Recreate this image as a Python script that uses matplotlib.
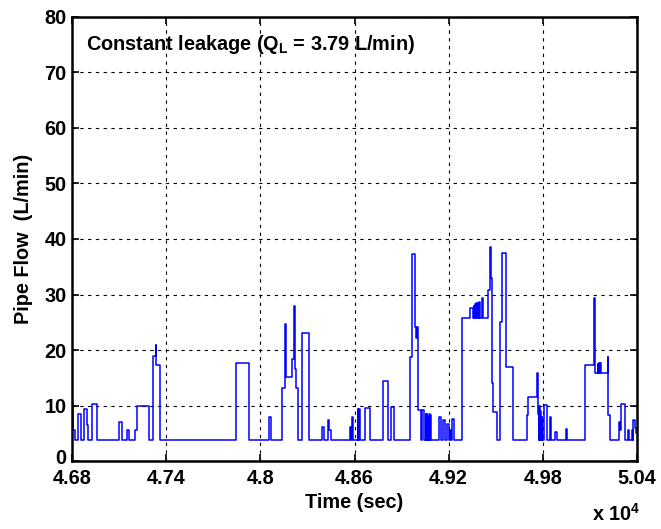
import matplotlib
matplotlib.use("Agg")
import matplotlib.pyplot as plt
import matplotlib.transforms as mtransforms

B = 3.79  # constant leakage baseline (L/min)

# step series: time (sec) at which each level starts, and flow level (L/min)
times = [46800, 46804, 46821, 46836, 46855, 46876, 46893, 46902, 46927, 46957,
         47101, 47118, 47152, 47163, 47201, 47212, 47292, 47314, 47333, 47338,
         47360, 47843, 47928, 48057, 48068, 48140, 48159, 48164, 48200, 48213,
         48219, 48229, 48242, 48264, 48310, 48391, 48408, 48433, 48440, 48448,
         48571, 48578, 48582, 48588, 48620, 48624, 48626, 48629, 48631, 48635,
         48667, 48699, 48784, 48816, 48831, 48852, 48955, 48968, 48986, 48989,
         48992, 48995, 48998, 49007, 49022, 49028, 49043, 49054, 49058, 49061,
         49065, 49068, 49073, 49076, 49081, 49084, 49088, 49138, 49152, 49162,
         49175, 49188, 49200, 49206, 49212, 49222, 49234, 49282, 49335, 49356,
         49360, 49364, 49368, 49373, 49377, 49382, 49386, 49392, 49396, 49402,
         49412, 49416, 49448, 49463, 49467, 49474, 49481, 49505, 49527, 49540,
         49565, 49612, 49697, 49708, 49765, 49771, 49775, 49778, 49782, 49785,
         49789, 49792, 49796, 49805, 49826, 49846, 49855, 49878, 49890, 49948,
         49956, 50069, 50128, 50133, 50150, 50153, 50158, 50162, 50166, 50170,
         50213, 50217, 50230, 50283, 50292, 50300, 50326, 50342, 50350, 50368,
         50375, 50377, 50385, 50392, 50400]
flows = [10.5, 5.5, B, 8.5, B, 9.3, 6.5, B, 10.3, B,
         7.0, B, 5.5, B, 5.5, 9.9, B, 18.9, 20.9, 17.3,
         B, 17.7, B, 7.9, B, 13.2, 24.7, 15.2, 18.4, 27.9,
         16.6, 13.2, B, 23.0, B, 6.2, B, 7.4, 5.5, B,
         6.1, B, 8.0, B, 9.4, B, 9.4, B, 9.4, B,
         9.5, B, 14.5, B, 9.8, B, 18.8, 37.3, 24.2, 22.2,
         24.2, 22.2, 24.2, 9.2, B, 9.1, B, 8.4, B, 8.4,
         B, 8.0, B, 8.4, B, 8.3, B, 8.0, B, 7.4,
         B, 6.6, B, 5.5, B, 7.6, B, 25.7, 27.6, 25.7,
         28.0, 25.7, 28.3, 25.7, 28.5, 25.7, 28.5, 25.7, 28.7, 25.7,
         29.3, 25.7, 30.8, 38.6, 33.0, 14.0, 8.8, B, 25.1, 37.5,
         16.9, B, 8.2, 11.5, 15.9, 8.5, B, 10.0, B, 9.0,
         B, 8.0, B, 10.1, B, 8.0, B, 5.3, B, 5.8,
         B, 17.3, 29.3, 15.8, 17.5, 15.8, 17.7, 15.8, 17.7, 15.8,
         18.7, 8.2, B, 7.1, 5.6, 10.3, B, 5.6, B, 5.5,
         B, 7.3, 5.9, 5.0, 5.0]

xticks = [46800, 47400, 48000, 48600, 49200, 49800, 50400]
xticklabels = ["4.68", "4.74", "4.8", "4.86", "4.92", "4.98", "5.04"]
yticks = [0, 10, 20, 30, 40, 50, 60, 70, 80]

plt.rcParams['font.family'] = ['Liberation Sans', 'DejaVu Sans']
FS = 14.3

fig = plt.figure(figsize=(6.61, 5.29), dpi=100)
ax = fig.add_axes([72/661, 1 - 461/529, (637 - 72)/661, (461 - 17)/529])

ax.plot(times, flows, drawstyle='steps-post', color='#0000ff', linewidth=1.1)

ax.set_xlim(46800, 50400)
ax.set_ylim(0, 80)
ax.set_xticks(xticks)
ax.set_xticklabels(xticklabels)
ax.set_yticks(yticks)
ax.grid(True, color='black', linestyle=(0, (3, 4)), linewidth=0.8)
ax.tick_params(direction='in', length=5, width=1.2, top=True, right=True,
               labelsize=FS)
ax.tick_params(axis='x', pad=6)
ax.tick_params(axis='y', pad=4)
for lab in ax.get_xticklabels() + ax.get_yticklabels():
    lab.set_fontweight('bold')
for s in ax.spines.values():
    s.set_linewidth(1.8)

# nudge the "0" y tick label up slightly so it doesn't collide with "4.68"
ylab0 = ax.get_yticklabels()[0]
ylab0.set_transform(ylab0.get_transform() +
                    mtransforms.ScaledTranslation(0, 4/100, fig.dpi_scale_trans))

ax.set_xlabel('Time (sec)', fontsize=FS, fontweight='bold', labelpad=3)
ax.set_ylabel('Pipe Flow  (L/min)', fontsize=FS, fontweight='bold', labelpad=8)

ax.text(46890, 75, r'Constant leakage (Q$_\mathregular{L}$ = 3.79 L/min)',
        fontsize=FS, fontweight='bold', va='center', ha='left')
fig.text(592/661, 1 - 514/529, r'x 10$^\mathregular{4}$', fontsize=FS,
         fontweight='bold', va='center', ha='left')

fig.savefig('out.png', dpi=100)
